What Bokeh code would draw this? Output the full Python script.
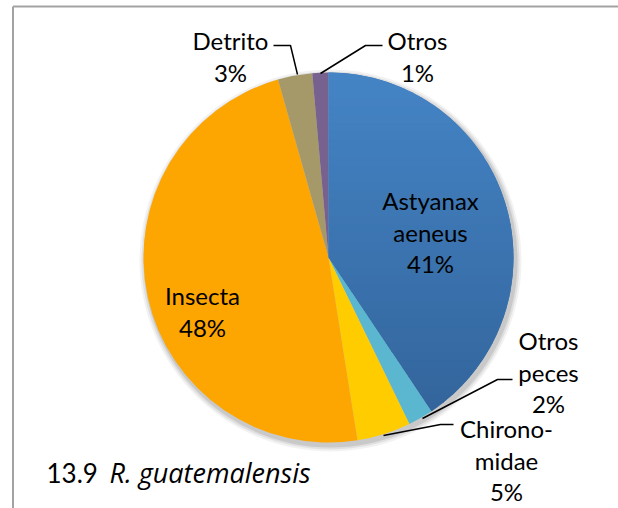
import math
from bokeh.plotting import figure
from bokeh.models import ColumnDataSource
from bokeh.core.properties import value
from bokeh.embed import file_html
from bokeh.resources import INLINE

# ---- data (clockwise from 12 o'clock) ----
categories = ["Astyanax aeneus", "Otros peces", "Chironomidae", "Insecta", "Detrito", "Otros"]
label_lines = [["Astyanax", "aeneus"], ["Otros", "peces"], ["Chirono-", "midae"],
               ["Insecta"], ["Detrito"], ["Otros"]]
percents = [40.6, 2.2, 4.7, 48.1, 3.0, 1.4]
colors = ["#3B76B2", "#5BB7CF", "#FFCC00", "#FDA500", "#A5996A", "#76618F"]
title_num = "13.9"
title_species = "R. guatemalensis"

# ---- layout (data units == screen px; x = px, y = 508 - py) ----
W, H = 618, 508
cx, cy, R = 328, 251, 185
label_x = [430, 548, 506, 202, 230, 417]          # centre x (px)
label_base = [200, 340, 428, 295, 40, 40]          # first-line anchor (px from top)
LINE = 31.5
leaders = [
    None,
    [(512, 379), (497, 379), (422, 418)],
    [(453, 424), (440, 424), (383, 435)],
    None,
    [(273, 45), (290, 45), (297, 74)],
    [(382, 45), (365, 45), (320, 73)],
]
FONT = "Lato"
FS = "24px"
GRAD_TOP, GRAD_BOT = (0x44, 0x84, 0xC6), (0x33, 0x65, 0x9B)   # gradient of first slice

total = sum(percents)
starts, ends = [], []
cum = 0.0
for v in percents:
    starts.append(math.pi / 2 - 2 * math.pi * cum / total)
    cum += v
    ends.append(math.pi / 2 - 2 * math.pi * cum / total)

p = figure(width=W, height=H, x_range=(0, W), y_range=(0, H),
           output_backend="svg", toolbar_location=None,
           x_axis_location=None, y_axis_location=None, min_border=0)
p.grid.visible = False
p.outline_line_color = None
p.background_fill_color = "white"
p.border_fill_color = "white"

# frame border (left and top edges visible)
p.line([12.5, 12.5], [0, 502], line_color="#A3A3A3", line_width=2)
p.line([12.5, W], [502, 502], line_color="#A3A3A3", line_width=2)

# soft shadow
for k, a in [(6, 0.05), (4, 0.07), (2, 0.10)]:
    p.scatter([cx + 2], [cy - 3], size=2 * (R + k), fill_color="#000000",
              fill_alpha=a, line_color=None, marker="circle")

src = ColumnDataSource(dict(start=starts, end=ends, color=colors, cat=categories))
p.wedge(x=cx, y=cy, radius=R, start_angle="start", end_angle="end",
        direction="clock", fill_color="color", line_color=None, source=src)

# vertical gradient on first slice: clip its outline into horizontal bands
n_arc = 120
poly = [(cx, cy)] + [(cx + R * math.cos(starts[0] + (ends[0] - starts[0]) * t / n_arc),
                      cy + R * math.sin(starts[0] + (ends[0] - starts[0]) * t / n_arc))
                     for t in range(n_arc + 1)]


def clip(pts, lo, hi):
    def cut(pts, keep, yb):
        out = []
        for i in range(len(pts)):
            a, b = pts[i - 1], pts[i]
            ia, ib = keep(a[1]), keep(b[1])
            if ib:
                if not ia:
                    t = (yb - a[1]) / (b[1] - a[1])
                    out.append((a[0] + t * (b[0] - a[0]), yb))
                out.append(b)
            elif ia:
                t = (yb - a[1]) / (b[1] - a[1])
                out.append((a[0] + t * (b[0] - a[0]), yb))
        return out
    pts = cut(pts, lambda y: y >= lo, lo)
    if pts:
        pts = cut(pts, lambda y: y <= hi, hi)
    return pts


ys_all = [q[1] for q in poly]
ymin, ymax = min(ys_all), max(ys_all)
nb = 40
bx, by, bc = [], [], []
for i in range(nb):
    lo = ymin + (ymax - ymin) * i / nb
    hi = ymin + (ymax - ymin) * (i + 1) / nb + 0.8
    seg = clip(poly, lo, hi)
    if len(seg) < 3:
        continue
    f = (i + 0.5) / nb   # 0 at bottom (data y up), 1 at top
    c = tuple(int(round(GRAD_BOT[k] + (GRAD_TOP[k] - GRAD_BOT[k]) * f)) for k in range(3))
    bx.append([q[0] for q in seg])
    by.append([q[1] for q in seg])
    bc.append("#%02X%02X%02X" % c)
p.patches(bx, by, fill_color=bc, line_color=None)

# labels, one text per line
tx, ty, tt = [], [], []
for lines, v, x0, b0 in zip(label_lines, percents, label_x, label_base):
    for i, s in enumerate(lines + [f"{round(v)}%"]):
        tx.append(x0)
        ty.append(H - (b0 + LINE * i))
        tt.append(s)
p.text(x=tx, y=ty, text=tt, text_font=value(FONT), text_font_size=FS, text_color="black",
       text_align="center", text_baseline="alphabetic")

# leader lines
xs, ys = [], []
for ld in leaders:
    if ld:
        xs.append([pt[0] for pt in ld])
        ys.append([H - pt[1] for pt in ld])
p.multi_line(xs, ys, line_color="black", line_width=1.5)

# caption
p.text(x=[46], y=[H - 472], text=[title_num], text_font=value(FONT), text_font_size="26px",
       text_align="left", text_baseline="alphabetic", text_color="black")
p.text(x=[109], y=[H - 472], text=[title_species], text_font=value("Open Sans"),
       text_font_size="27px", text_font_style="italic", text_align="left",
       text_baseline="alphabetic", text_color="black")

open("out.html", "w").write(file_html(p, INLINE))
